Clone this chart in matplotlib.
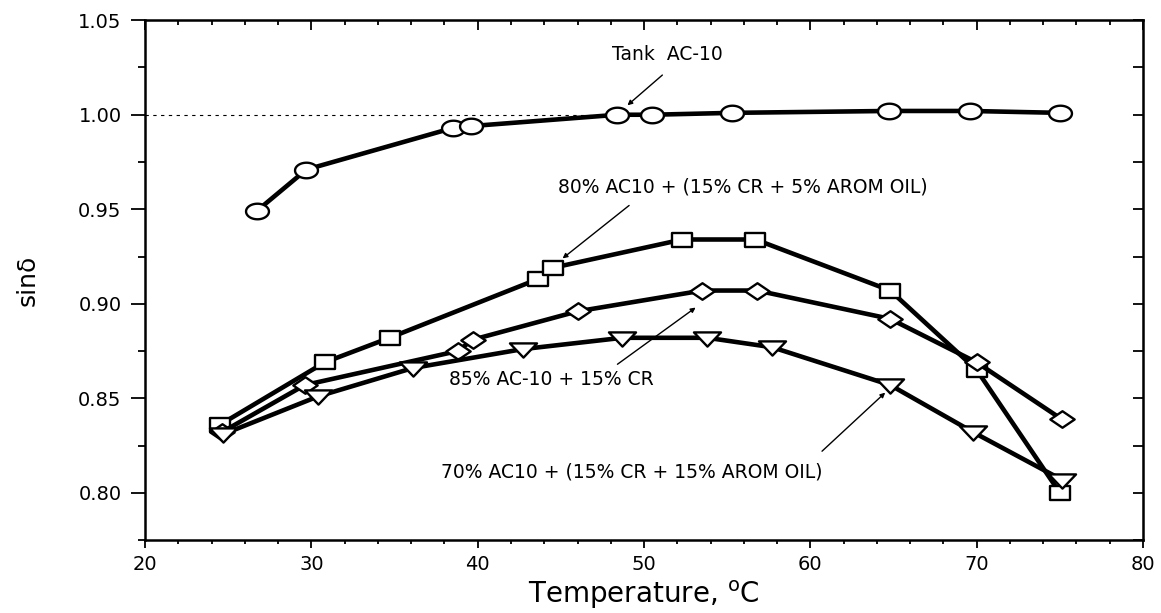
"""sin(delta) vs temperature for tank AC-10 and crumb-rubber blends."""
import numpy as np
import matplotlib
matplotlib.use("Agg")
import matplotlib.pyplot as plt
from matplotlib.path import Path
from matplotlib.ticker import MultipleLocator, FormatStrFormatter

plt.rcParams["font.family"] = ["DejaVu Sans"]

# ---- data ----
tank_T   = [26.7, 29.7, 38.5, 39.6, 48.4, 50.5, 55.3, 64.7, 69.6, 75.0]
tank_s   = [0.949, 0.971, 0.993, 0.994, 1.000, 1.000, 1.001, 1.002, 1.002, 1.001]

b80_T    = [24.5, 30.8, 34.7, 43.6, 44.5, 52.3, 56.7, 64.8, 70.0, 75.0]
b80_s    = [0.836, 0.869, 0.882, 0.913, 0.919, 0.934, 0.934, 0.907, 0.865, 0.800]

b85_T    = [24.6, 29.6, 38.8, 39.7, 46.0, 53.5, 56.8, 64.8, 70.0, 75.1]
b85_s    = [0.832, 0.857, 0.875, 0.881, 0.896, 0.907, 0.907, 0.892, 0.869, 0.839]

b70_T    = [24.7, 30.4, 36.1, 42.7, 48.7, 53.8, 57.7, 64.8, 69.8, 75.1]
b70_s    = [0.831, 0.851, 0.866, 0.876, 0.882, 0.882, 0.877, 0.857, 0.832, 0.807]

labels = ["Tank  AC-10",
          "80% AC10 + (15% CR + 5% AROM OIL)",
          "85% AC-10 + 15% CR",
          "70% AC10 + (15% CR + 15% AROM OIL)"]

# ---- squashed (wide) marker shapes like the original plot ----
def ellipse(k=0.68):
    t = np.linspace(0, 2*np.pi, 60)
    return Path(np.column_stack([np.cos(t), k*np.sin(t)]), closed=True)

def poly(pts):
    pts = np.asarray(pts + [pts[0]], float)
    codes = [Path.MOVETO] + [Path.LINETO]*(len(pts)-2) + [Path.CLOSEPOLY]
    return Path(pts, codes)

M_CIRC = ellipse()
M_SQR  = poly([(-1, -0.65), (1, -0.65), (1, 0.65), (-1, 0.65)])
M_DIA  = poly([(-1, 0), (0, -0.68), (1, 0), (0, 0.68)])
M_TRI  = poly([(-1, 0.45), (1, 0.45), (0, -0.6)])

fig = plt.figure(figsize=(11.61, 6.13), dpi=100)
ax = fig.add_axes([0.125, 0.119, 0.8595, 0.848])

kw = dict(color="black", lw=3.3, mfc="white", mec="black", mew=1.7)
ax.plot([20, 48.4], [1.0, 1.0], color="black", lw=0.8, ls=(0, (3, 4)), zorder=1)
ax.plot(tank_T, tank_s, marker=M_CIRC, ms=16.5, **kw)
ax.plot(b80_T, b80_s, marker=M_SQR, ms=15, **kw)
ax.plot(b85_T, b85_s, marker=M_DIA, ms=17.5, **kw)
ax.plot(b70_T, b70_s, marker=M_TRI, ms=19.5, **kw)

# ---- labels with leader arrows ----
ak = dict(arrowstyle="-|>", color="black", lw=1.0, mutation_scale=7, shrinkA=0, shrinkB=0)
fs = 13.5
ax.text(51.4, 1.032, labels[0], fontsize=fs, ha="center", va="center")
ax.annotate("", xy=(49.0, 1.005), xytext=(51.1, 1.021), arrowprops=ak)
ax.text(44.8, 0.962, labels[1], fontsize=fs, ha="left", va="center")
ax.annotate("", xy=(45.1, 0.924), xytext=(49.1, 0.952), arrowprops=ak)
ax.text(38.3, 0.860, labels[2], fontsize=fs, ha="left", va="center")
ax.annotate("", xy=(53.1, 0.898), xytext=(48.4, 0.868), arrowprops=ak)
ax.text(37.8, 0.811, labels[3], fontsize=fs, ha="left", va="center")
ax.annotate("", xy=(64.5, 0.853), xytext=(60.7, 0.822), arrowprops=ak)

# ---- axes ----
ax.set_xlim(20, 80)
ax.set_ylim(0.775, 1.05)
ax.xaxis.set_major_locator(MultipleLocator(10))
ax.xaxis.set_minor_locator(MultipleLocator(2))
ax.yaxis.set_major_locator(MultipleLocator(0.05))
ax.yaxis.set_minor_locator(MultipleLocator(0.025))
ax.yaxis.set_major_formatter(FormatStrFormatter("%.2f"))
for s in ax.spines.values():
    s.set_linewidth(1.8)
ax.tick_params(which="both", direction="out", width=1.3, labelsize=14)
ax.tick_params(axis="x", which="major", length=6, pad=5)
ax.tick_params(axis="x", which="minor", length=3)
ax.tick_params(axis="y", which="major", length=10, pad=7)
ax.tick_params(axis="y", which="minor", length=5)

# inward ticks on top and right, no labels
top = ax.secondary_xaxis("top")
top.set_xticks(np.arange(20, 81, 10))
top.xaxis.set_minor_locator(MultipleLocator(2))
top.tick_params(which="both", direction="in", labeltop=False, width=1.3)
top.tick_params(which="major", length=7)
top.tick_params(which="minor", length=3.5)
right = ax.secondary_yaxis("right")
right.yaxis.set_major_locator(MultipleLocator(0.05))
right.yaxis.set_minor_locator(MultipleLocator(0.025))
right.tick_params(which="both", direction="in", labelright=False, width=1.3, length=7)

ax.set_xlabel("Temperature, $^{\\mathrm{o}}$C", fontsize=20, labelpad=3)
ax.set_ylabel("sin\u03b4", fontsize=18, labelpad=28)

fig.savefig("out.png", dpi=100, facecolor="white")
